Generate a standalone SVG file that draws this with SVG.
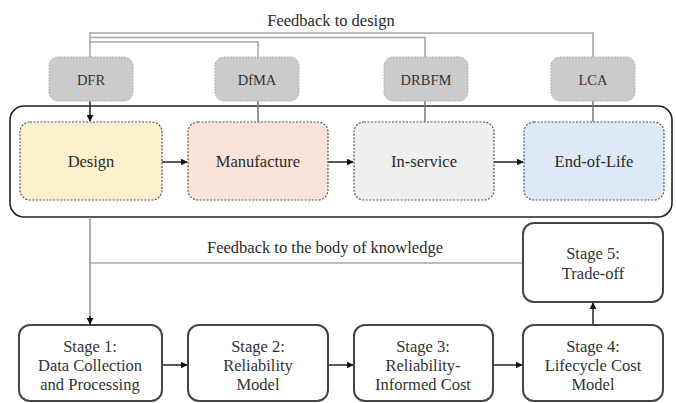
<svg xmlns="http://www.w3.org/2000/svg" width="676" height="403" viewBox="0 0 676 403">
  <style>
    text { text-anchor: middle; fill: #2a2a2a; }
    .lbl { font-size: 16.5px; }
    .tool rect { fill: #cbcbcb; stroke: #b0b0b0; stroke-width: 1; stroke-dasharray: 2 1; }
    .tool text { font-size: 14.5px; fill: #333; }
    .phase rect { stroke: #555; stroke-width: 1.2; stroke-dasharray: 2 1.5; }
    .stage rect { fill: #fff; stroke: #444; stroke-width: 2; }
    .stage text { font-size: 16.5px; fill: #333; }
    .fb { fill: none; stroke: #a8a8a8; stroke-width: 1.6; }
    .link { fill: none; stroke: #222; stroke-width: 1.5; }
    .link-gray { fill: none; stroke: #777; stroke-width: 1.5; }
  </style>
  <defs>
    <marker id="arrow" viewBox="0 0 10 10" refX="9" refY="5" markerWidth="7" markerHeight="7" markerUnits="userSpaceOnUse" orient="auto">
      <path d="M0,0 L10,5 L0,10 z" fill="#111"/>
    </marker>
  </defs>

  <g font-family="'Liberation Serif', 'DejaVu Serif', serif">
  <!-- life-cycle frame -->
  <rect id="lifecycle-frame" x="10" y="106" width="662" height="111" rx="14" fill="none" stroke="#222" stroke-width="1.6"/>

  <!-- connectors -->
  <g id="connectors">
    <!-- feedback to design -->
    <path class="fb" d="M90,57 V33 H593 V57"/>
    <path class="fb" d="M90,37.5 H425 V57"/>
    <path class="fb" d="M90,42 H258 V57"/>
    <!-- tools into phases -->
    <path class="link" d="M90,101 V121" marker-end="url(#arrow)"/>
    <path class="link-gray" d="M258,101 V122"/>
    <path class="link-gray" d="M425,101 V122"/>
    <path class="link-gray" d="M593,101 V122"/>
    <!-- phase sequence -->
    <path class="link" d="M162,162 H187" marker-end="url(#arrow)"/>
    <path class="link" d="M328,162 H353" marker-end="url(#arrow)"/>
    <path class="link" d="M494,162 H523" marker-end="url(#arrow)"/>
    <!-- frame down to stage 1 -->
    <path class="fb" d="M90,217 V318" style="stroke:#999"/>
    <path class="link" d="M90,316 V324" marker-end="url(#arrow)"/>
    <!-- feedback to the body of knowledge -->
    <path class="fb" d="M90,263 H523"/>
    <!-- stage sequence -->
    <path class="link" d="M162,365 H187" marker-end="url(#arrow)"/>
    <path class="link" d="M328,365 H353" marker-end="url(#arrow)"/>
    <path class="link" d="M493,365 H522" marker-end="url(#arrow)"/>
    <path class="link" d="M593,325 V303" marker-end="url(#arrow)"/>
  </g>

  <text class="lbl" x="331" y="26">Feedback to design</text>
  <text class="lbl" x="325" y="253">Feedback to the body of knowledge</text>

  <!-- design tools -->
  <g id="dfr" class="tool">
    <rect x="49" y="57" width="84" height="44" rx="9"/>
    <text x="91" y="85">DFR</text>
  </g>
  <g id="dima" class="tool">
    <rect x="215" y="57" width="84" height="44" rx="9"/>
    <text x="257" y="85">DfMA</text>
  </g>
  <g id="drbfm" class="tool">
    <rect x="384" y="57" width="84" height="44" rx="9"/>
    <text x="426" y="85">DRBFM</text>
  </g>
  <g id="lca" class="tool">
    <rect x="551" y="57" width="84" height="44" rx="9"/>
    <text x="593" y="85">LCA</text>
  </g>

  <!-- life-cycle phases -->
  <g id="design" class="phase">
    <rect x="20" y="122" width="142" height="78" rx="10" fill="#fdf1cd"/>
    <text class="lbl" x="91" y="167">Design</text>
  </g>
  <g id="manufacture" class="phase">
    <rect x="188" y="122" width="140" height="78" rx="10" fill="#fae3d8"/>
    <text class="lbl" x="258" y="167">Manufacture</text>
  </g>
  <g id="in-service" class="phase">
    <rect x="354" y="122" width="140" height="78" rx="10" fill="#efefef"/>
    <text class="lbl" x="424" y="167">In-service</text>
  </g>
  <g id="end-of-life" class="phase">
    <rect x="524" y="122" width="140" height="78" rx="10" fill="#dde9f6"/>
    <text class="lbl" x="594" y="167">End-of-Life</text>
  </g>

  <!-- analysis stages -->
  <g id="stage1" class="stage">
    <rect x="19" y="325" width="143" height="76" rx="11"/>
    <text x="90" y="352">Stage 1:</text>
    <text x="90" y="371">Data Collection</text>
    <text x="90" y="390">and Processing</text>
  </g>
  <g id="stage2" class="stage">
    <rect x="188" y="325" width="140" height="76" rx="11"/>
    <text x="258" y="352">Stage 2:</text>
    <text x="258" y="371">Reliability</text>
    <text x="258" y="390">Model</text>
  </g>
  <g id="stage3" class="stage">
    <rect x="354" y="325" width="139" height="76" rx="11"/>
    <text x="423" y="352">Stage 3:</text>
    <text x="423" y="371">Reliability-</text>
    <text x="423" y="390">Informed Cost</text>
  </g>
  <g id="stage4" class="stage">
    <rect x="523" y="325" width="140" height="76" rx="11"/>
    <text x="593" y="352">Stage 4:</text>
    <text x="593" y="371">Lifecycle Cost</text>
    <text x="593" y="390">Model</text>
  </g>
  <g id="stage5" class="stage">
    <rect x="523" y="223" width="140" height="79" rx="11"/>
    <text x="593" y="259">Stage 5:</text>
    <text x="593" y="279">Trade-off</text>
  </g>
  </g>
</svg>
